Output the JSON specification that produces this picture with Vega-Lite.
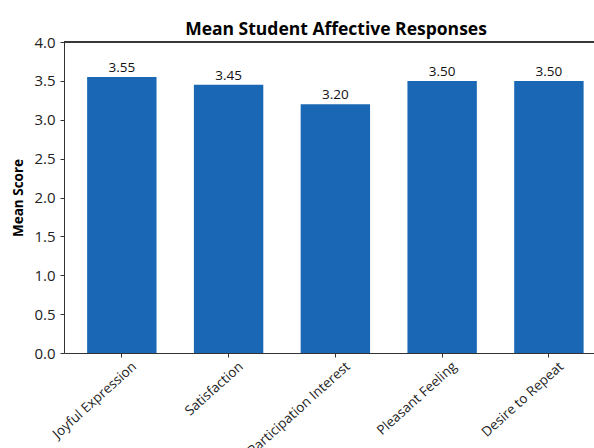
{
  "$schema": "https://vega.github.io/schema/vega-lite/v6.json",
  "width": 530,
  "height": 311,
  "autosize": "none",
  "padding": {"left": 64, "top": 42, "right": 0, "bottom": 95},
  "background": "white",
  "config": {
    "font": "Open Sans",
    "view": {"stroke": null}
  },
  "title": {
    "text": "Mean Student Affective Responses",
    "fontSize": 17.5,
    "fontWeight": "bold",
    "color": "black",
    "anchor": "middle",
    "dx": 7,
    "offset": -3
  },
  "data": {
    "values": [
      {"item": "Joyful Expression", "score": 3.55},
      {"item": "Satisfaction", "score": 3.45},
      {"item": "Participation Interest", "score": 3.2},
      {"item": "Pleasant Feeling", "score": 3.5},
      {"item": "Desire to Repeat", "score": 3.5}
    ]
  },
  "encoding": {
    "x": {
      "field": "item",
      "type": "nominal",
      "sort": null,
      "scale": {"paddingInner": 0.35, "paddingOuter": 0.157, "align": 0.69},
      "axis": {
        "title": null,
        "labelAngle": -42,
        "labelFontSize": 13.5,
        "labelColor": "#222",
        "labelOffset": 8,
        "domainColor": "#333",
        "tickColor": "#333",
        "tickSize": 4,
        "labelPadding": 2
      }
    },
    "y": {
      "field": "score",
      "type": "quantitative",
      "scale": {"domain": [0, 4]},
      "axis": {
        "title": "Mean Score",
        "titleFontSize": 13.5,
        "titleFontWeight": "bold",
        "titleColor": "black",
        "titlePadding": 8,
        "values": [0, 0.5, 1, 1.5, 2, 2.5, 3, 3.5, 4],
        "format": ".1f",
        "labelFontSize": 15,
        "labelColor": "#222",
        "labelPadding": 5,
        "grid": false,
        "domainColor": "#333",
        "tickColor": "#333",
        "tickSize": 4
      }
    }
  },
  "layer": [
    {
      "mark": {"type": "bar", "color": "#1a68b5"}
    },
    {
      "mark": {"type": "text", "baseline": "bottom", "dy": -2, "fontSize": 13.5, "color": "#111"},
      "encoding": {
        "text": {"field": "score", "type": "quantitative", "format": ".2f"}
      }
    },
    {
      "mark": {"type": "rule", "color": "#333", "strokeWidth": 1},
      "encoding": {
        "x": null,
        "y": {"datum": 4}
      }
    }
  ]
}
